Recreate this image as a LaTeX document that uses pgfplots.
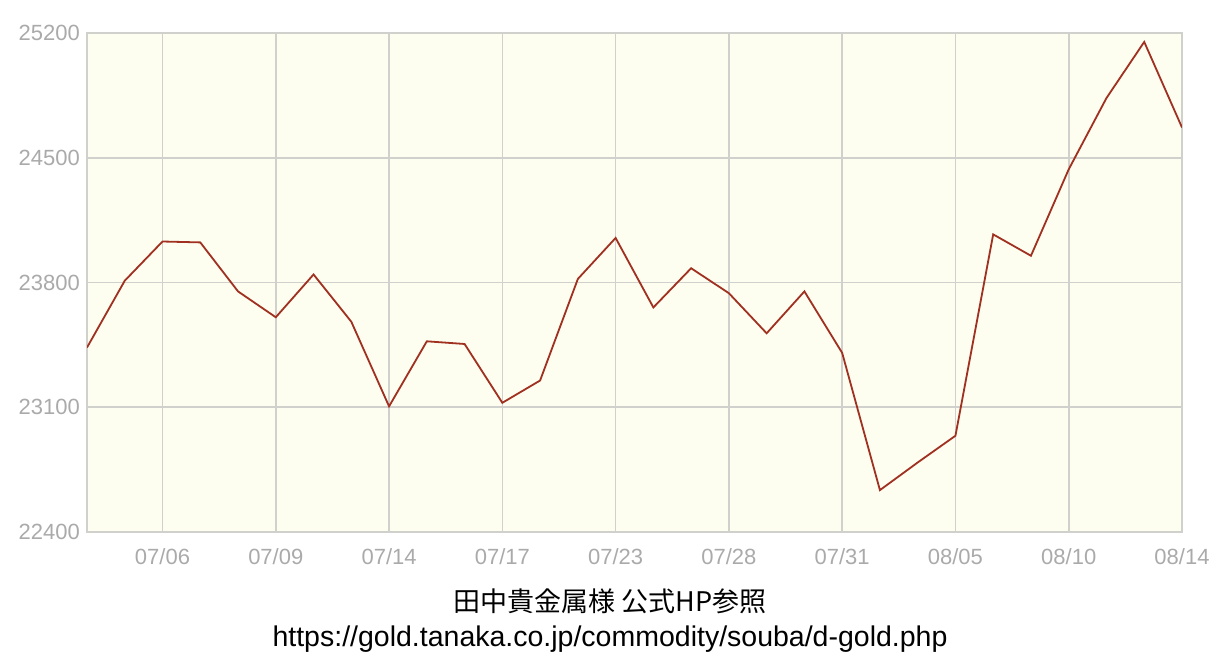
\documentclass[border=0pt]{standalone}
\usepackage{pgfplots}
\pgfplotsset{compat=1.18}
\usepackage{fontspec}
\setmainfont{Liberation Sans}
\newfontfamily\cjk{Noto Sans CJK JP}
\definecolor{plotbg}{RGB}{253,253,240}
\definecolor{gridgray}{RGB}{208,208,204}
\definecolor{ticktext}{RGB}{170,170,170}
\definecolor{goldline}{RGB}{160,48,32}

% daily gold price (yen/g), one row per business day
\pgfplotstableread{
idx price
0  23435
1  23810
2  24030
3  24025
4  23750
5  23605
6  23845
7  23580
8  23105
9  23470
10 23455
11 23125
12 23250
13 23820
14 24050
15 23660
16 23880
17 23740
18 23515
19 23750
20 23405
21 22635
22 22790
23 22940
24 24070
25 23950
26 24435
27 24835
28 25150
29 24670
}\golddata

\begin{document}
\begin{tikzpicture}[x=1pt,y=1pt]
\path[use as bounding box] (0,0) rectangle (1220,664);
\begin{axis}[
    at={(87pt,132pt)}, anchor=south west,
    scale only axis,
    width=1095pt, height=499pt,
    xmin=0, xmax=29,
    ymin=22400, ymax=25200,
    ytick={22400,23100,23800,24500,25200},
    xtick={2,5,8,11,14,17,20,23,26,29},
    xticklabels={07/06,07/09,07/14,07/17,07/23,07/28,07/31,08/05,08/10,08/14},
    scaled y ticks=false,
    /pgf/number format/1000 sep={},
    /pgf/number format/assume math mode=true,
    grid=major,
    grid style={draw=gridgray, line width=1.6pt},
    axis line style={draw=gridgray, line width=1.6pt},
    axis background/.style={fill=plotbg},
    major tick length=0pt,
    tick style={draw=none},
    ticklabel style={font=\fontsize{22}{26}\selectfont, text=ticktext, inner sep=0pt},
    yticklabel style={anchor=east, xshift=-7pt},
    xticklabel style={anchor=north, yshift=-16pt},
]
\addplot[goldline, line width=1.8pt, mark=none] table[x=idx, y=price] {\golddata};
\end{axis}
\node[anchor=base, font=\cjk\fontsize{27}{30}\selectfont] at (610,53) {田中貴金属様 公式HP参照};
\node[anchor=base, font=\fontsize{28.5}{32}\selectfont] at (610,18) {https://gold.tanaka.co.jp/commodity/souba/d-gold.php};
\end{tikzpicture}
\end{document}
